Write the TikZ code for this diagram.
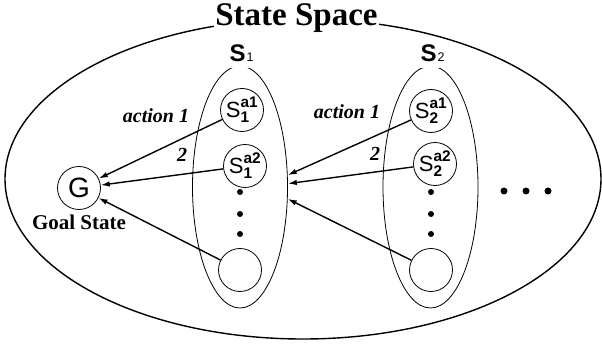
\documentclass[tikz,border=0pt]{standalone}
\usepackage{fontspec}
\usepackage{amsmath}
\setmainfont{Liberation Serif}
\setsansfont{Liberation Sans}
\usetikzlibrary{positioning,arrows.meta,shapes.geometric}

\newcommand{\substate}[2]{$\text{S}^{\text{\bfseries a#2}}_{\text{\bfseries #1}}$}

\begin{document}
\begin{tikzpicture}[
    x=1pt, y=-1pt,
    outer/.style={
        draw,
        ellipse,
        line width=1.4pt,
        minimum width=596pt,
        minimum height=320pt,
        inner sep=0pt
    },
    cluster/.style={
        draw,
        ellipse,
        line width=0.8pt,
        minimum width=95pt,
        minimum height=242pt,
        inner sep=0pt
    },
    state/.style={
        draw,
        circle,
        line width=0.8pt,
        inner sep=0pt,
        minimum size=43pt,
        font=\sffamily\fontsize{22}{22}\selectfont
    },
    dot/.style={
        circle,
        fill,
        inner sep=0pt,
        minimum size=6pt
    },
    heading/.style={
        fill=white,
        anchor=base,
        inner sep=1pt,
        font=\bfseries\fontsize{33}{33}\selectfont
    },
    clusterlabel/.style={
        fill=white,
        anchor=base,
        inner xsep=2pt,
        inner ysep=5.5pt,
        font=\sffamily\fontsize{24}{24}\selectfont
    },
    goallabel/.style={
        inner sep=1pt,
        font=\bfseries\fontsize{21}{21}\selectfont
    },
    actlabel/.style={
        anchor=base,
        inner sep=1pt,
        font=\bfseries\itshape\fontsize{20}{20}\selectfont
    },
    arrow/.style={
        -{Latex[length=9pt,width=5.5pt]},
        line width=1.4pt
    }
]
\useasboundingbox (0,0) rectangle (602,347);

% state space
\node[outer] (space) at (303,179) {};
\node[heading] (title) at (296.5,26) {State Space};

% the two sets S1, S2
\node[cluster] (C1) at (240,187) {};
\node[cluster] (C2) at (430.5,187) {};
\node[clusterlabel] (C1lab) at (241.5,62) {\textbf{S}\kern1pt{\fontsize{12.5}{12.5}\selectfont 1}};
\node[clusterlabel] (C2lab) at (432.5,62) {\textbf{S}\kern1pt{\fontsize{12.5}{12.5}\selectfont 2}};

% goal
\node[state, font=\sffamily\fontsize{28}{28}\selectfont] (G) at (79,188) {G};
\node[goallabel, below=4pt of G] (goal) {Goal State};

% states
\node[state] (s11) at (242,110) {\substate{1}{1}};
\node[state] (s12) at (245,166) {\substate{1}{2}};
\node[state] (s1n) at (240,270) {};
\node[state] (s21) at (431,111) {\substate{2}{1}};
\node[state] (s22) at (435,164) {\substate{2}{2}};
\node[state] (s2n) at (431,270) {};

% dots
\node[dot] (d11) at (240,192) {};
\node[dot] (d12) at (240,214) {};
\node[dot] (d13) at (240,234) {};
\node[dot] (d21) at (431,192) {};
\node[dot] (d22) at (431,214) {};
\node[dot] (d23) at (431,234) {};
\node[dot, minimum size=7pt] (e1) at (504,191) {};
\node[dot, minimum size=7pt] (e2) at (526,191) {};
\node[dot, minimum size=7pt] (e3) at (548,191) {};

% actions
\draw[arrow] (s11) -- (G);
\draw[arrow] (s12) -- (G);
\draw[arrow] (s1n) -- (G);
\draw[arrow] (s21) -- (C1.14);
\draw[arrow] (s22) -- (C1.4);
\draw[arrow] (s2n) -- (C1.-14);

\node[actlabel] (act11) at (156,123) {action 1};
\node[actlabel] (act12) at (182,162) {2};
\node[actlabel] (act21) at (347,119) {action 1};
\node[actlabel] (act22) at (375,161) {2};

\end{tikzpicture}
\end{document}
